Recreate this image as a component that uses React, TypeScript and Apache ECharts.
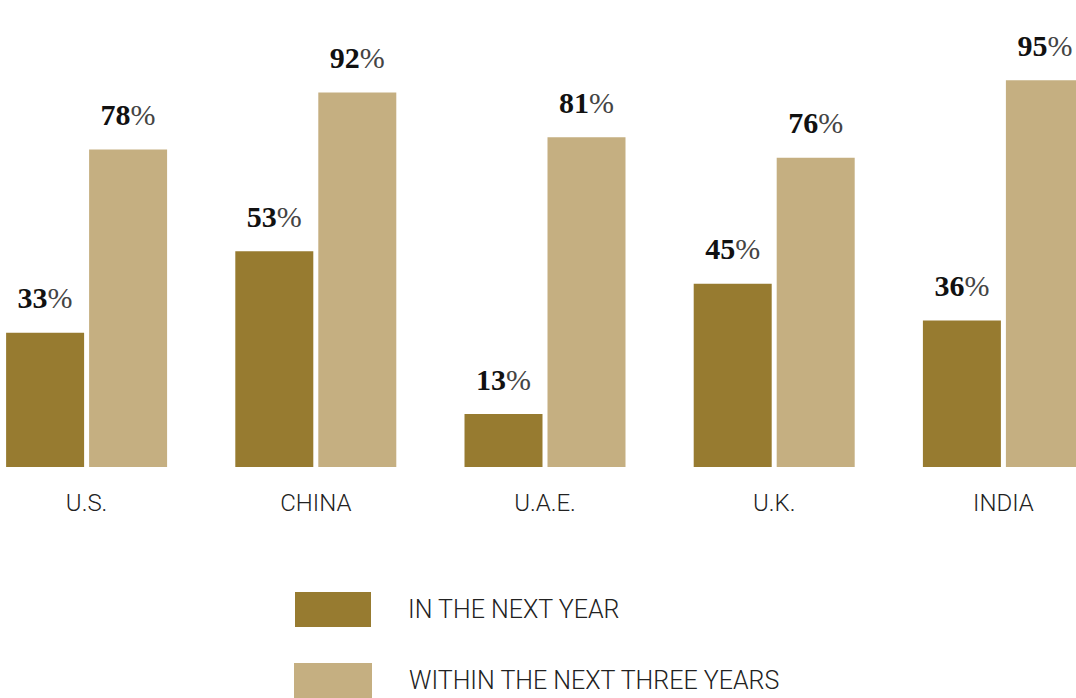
import React, { useEffect, useRef } from "react";
import * as echarts from "echarts";

const categories = ["U.S.", "CHINA", "U.A.E.", "U.K.", "INDIA"];
const nextYear = [33, 53, 13, 45, 36];
const nextThreeYears = [78, 92, 81, 76, 95];
const seriesNames = ["IN THE NEXT YEAR", "WITHIN THE NEXT THREE YEARS"];
const colors = ["#977B30", "#C5AF81"];

const SHIFT = 28;

export default function App() {
  const ref = useRef<HTMLDivElement>(null);
  useEffect(() => {
    if (!ref.current) return;
    const chart = echarts.init(ref.current, null, { renderer: "svg" });
    const label = {
      show: true,
      position: "top",
      distance: 20,
      formatter: (p: any) => `{n|${p.value}}{p|%}`,
      rich: {
        n: {
          fontFamily: "Liberation Serif",
          fontWeight: "bold",
          fontSize: 30,
          color: "#111111",
        },
        p: {
          fontFamily: "Liberation Serif",
          fontWeight: "normal",
          fontSize: 30,
          color: "#444444",
        },
      },
    };
    const legendText = {
      fontFamily: "Roboto",
      fontWeight: 300,
      fontSize: 25,
      color: "#222222",
      padding: [4, 0, 0, 32],
    };
    chart.setOption({
      animation: false,
      grid: { left: 0, right: 0, top: 60, bottom: 231, containLabel: false },
      xAxis: {
        type: "category",
        data: categories,
        axisLine: { show: false },
        axisTick: { show: false },
        axisLabel: {
          fontFamily: "Roboto",
          fontWeight: 300,
          fontSize: 24,
          color: "#222222",
          margin: 24,
        },
      },
      yAxis: {
        type: "value",
        min: 0,
        max: 100,
        show: false,
        splitLine: { show: false },
      },
      legend: [
        {
          data: [seriesNames[0]],
          orient: "vertical",
          left: 295 + SHIFT,
          top: 592,
          padding: 0,
          itemWidth: 76,
          itemHeight: 35,
          icon: "rect",
          selectedMode: false,
          textStyle: legendText,
        },
        {
          data: [seriesNames[1]],
          orient: "vertical",
          left: 294 + SHIFT,
          top: 663,
          padding: 0,
          itemWidth: 78,
          itemHeight: 35,
          icon: "rect",
          selectedMode: false,
          textStyle: legendText,
        },
      ],
      series: [
        {
          name: seriesNames[0],
          type: "bar",
          data: nextYear,
          barWidth: 78,
          barGap: "6.4%",
          itemStyle: { color: colors[0] },
          label,
        },
        {
          name: seriesNames[1],
          type: "bar",
          data: nextThreeYears,
          barWidth: 78,
          barGap: "6.4%",
          itemStyle: { color: colors[1] },
          label,
        },
      ],
    });
    return () => chart.dispose();
  }, []);
  return (
    <div
      style={{
        position: "absolute",
        left: 0,
        top: 0,
        width: 1076,
        height: 698,
        overflow: "hidden",
      }}
    >
      <div
        ref={ref}
        style={{ position: "absolute", left: -SHIFT, top: 0, width: 1146, height: 698 }}
      />
    </div>
  );
}
